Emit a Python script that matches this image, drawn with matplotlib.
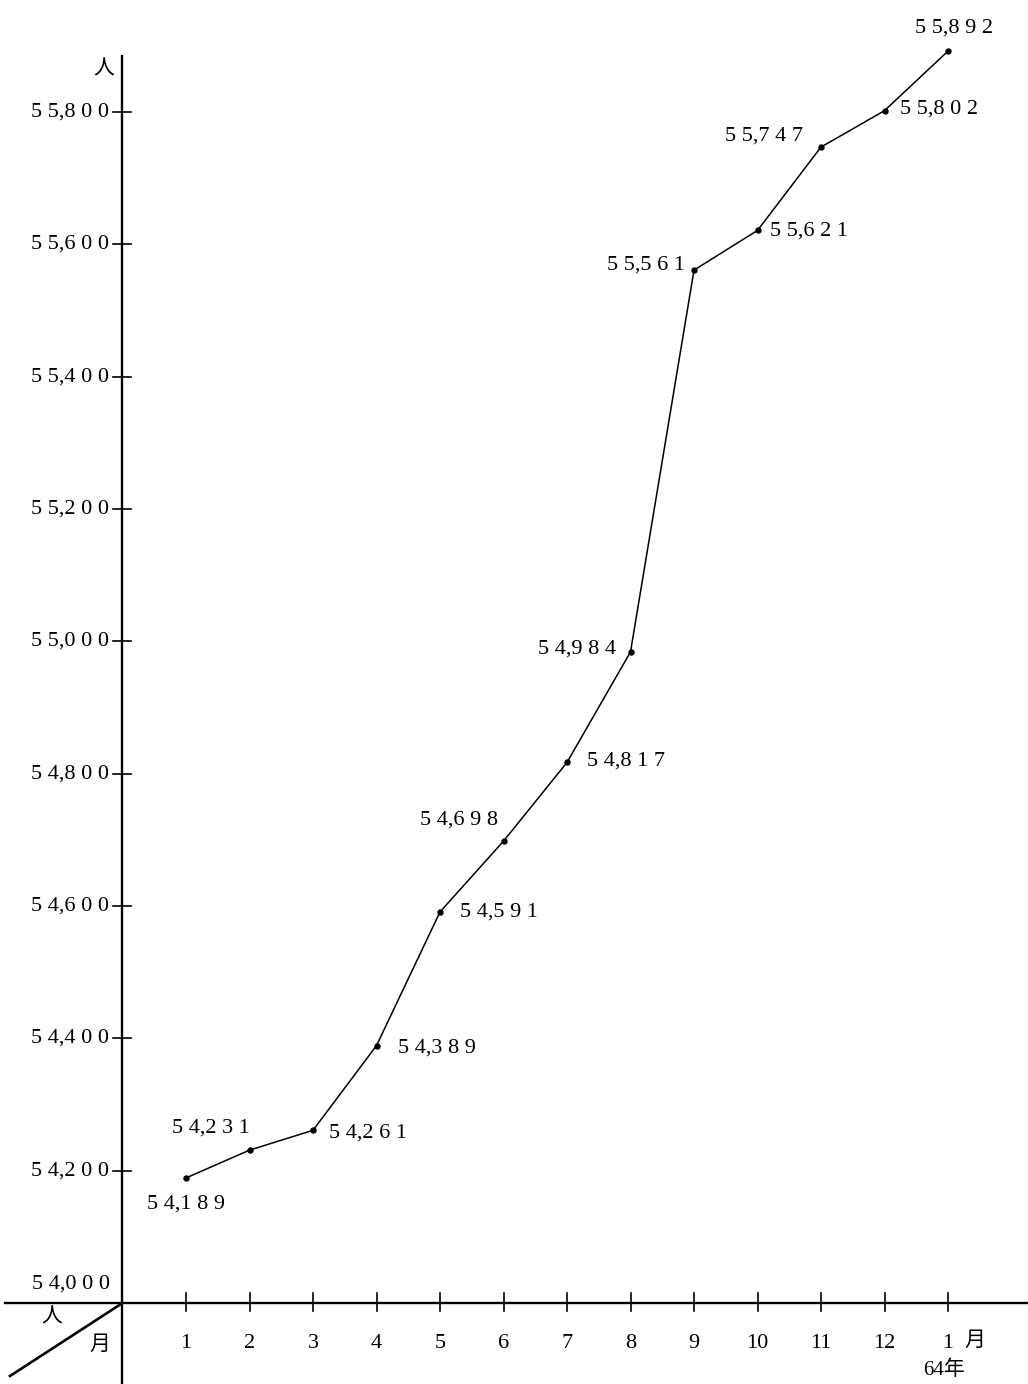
import matplotlib
matplotlib.use("Agg")
import matplotlib.pyplot as plt

months = [1, 2, 3, 4, 5, 6, 7, 8, 9, 10, 11, 12, 13]
month_labels = ["1", "2", "3", "4", "5", "6", "7", "8", "9", "10", "11", "12", "1"]
values = [54189, 54231, 54261, 54389, 54591, 54698, 54817, 54984,
          55561, 55621, 55747, 55802, 55892]
yticks = [54200, 54400, 54600, 54800, 55000, 55200, 55400, 55600, 55800]

# label offsets in pixels (dx, dy) and alignment
label_pos = [
    (0, -26, "center"), (0, 22, "right"), (16, -3, "left"), (22, -2, "left"),
    (20, 0, "left"), (-6, 21, "right"), (20, 1, "left"), (-14, 3, "right"),
    (-9, 5, "right"), (12, -1, "left"), (-18, 11, "right"), (15, 2, "left"),
    (6, 23, "center"),
]

FONT = ["Liberation Serif", "Noto Sans CJK JP", "DejaVu Sans"]
plt.rcParams["font.family"] = FONT


def spaced(v):
    s = f"{v:,}"
    a, b = s.split(",")
    return " ".join(a) + "," + " ".join(b)


W, H = 1028, 1384
fig = plt.figure(figsize=(W / 100, H / 100), dpi=100)
ax = fig.add_axes([0, 0, 1, 1])
ax.axis("off")

# pixel mapping: x px = 122.5 + 63.5*m ; y px (from top) = 1303 - (v-54000)*0.66167
sx, x0 = 63.5, 122.5
sy, y0 = 0.66167, 1303
ax.set_xlim(-x0 / sx, (W - x0) / sx)
ax.set_ylim(54000 - (H - y0) / sy, 54000 + y0 / sy)


def px2x(p):
    return (p - x0) / sx


def py2y(p):
    return 54000 + (y0 - p) / sy


fs = 16
# axes lines
ax.plot([0, 0], [py2y(H), py2y(55)], color="black", lw=1.7, solid_capstyle="butt")
ax.plot([px2x(5), px2x(W)], [54000, 54000], color="black", lw=1.7)
ax.plot([px2x(10), 0], [py2y(1376), 54000], color="black", lw=1.9)

# y ticks
for t in yticks:
    ax.plot([px2x(113), px2x(131)], [t, t], color="black", lw=1.2)
    ax.text(px2x(109), t, spaced(t), ha="right", va="center", fontsize=fs)
ax.text(px2x(110), py2y(1284), spaced(54000), ha="right", va="center", fontsize=fs)

# x ticks
for m, lab in zip(months, month_labels):
    ax.plot([m, m], [py2y(1293), py2y(1311)], color="black", lw=1.2)
    ax.text(m, py2y(1343), lab, ha="center", va="center", fontsize=fs)
ax.text(px2x(975), py2y(1341), "月", ha="center", va="center", fontsize=fs - 1)
ax.text(px2x(944), py2y(1370), "64年", ha="center", va="center", fontsize=fs - 1)

# corner labels
ax.text(px2x(52), py2y(1318), "人", ha="center", va="center", fontsize=fs - 1)
ax.text(px2x(100), py2y(1345), "月", ha="center", va="center", fontsize=fs - 1)
ax.text(px2x(104), py2y(70), "人", ha="center", va="center", fontsize=fs - 1)

# data line
ax.plot(months, values, color="black", lw=1.1, marker="o", markersize=3.6)

for m, v, (dx, dy, ha) in zip(months, values, label_pos):
    ax.annotate(spaced(v), (m, v), xytext=(dx, dy), textcoords="offset pixels",
                ha=ha, va="center", fontsize=fs)

fig.savefig("out.png", dpi=100)
